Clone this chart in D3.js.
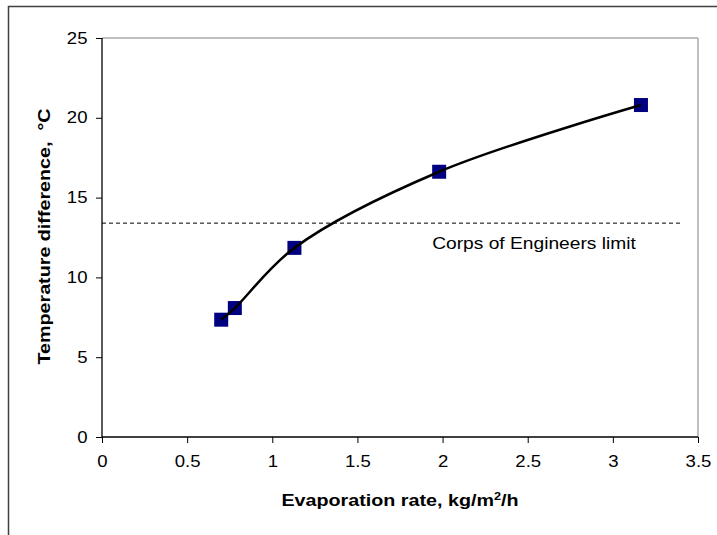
<!DOCTYPE html>
<html><head><meta charset="utf-8">
<script src="https://cdn.jsdelivr.net/npm/d3@7"></script>
<style>body{margin:0;background:#fff}svg{display:block;font-family:Arial,"Liberation Sans",sans-serif}</style>
</head><body><svg id="c" width="717" height="535"></svg>
<script>
const evapRate = [0.70, 0.78, 1.13, 1.98, 3.165];
const tempDiff = [7.35, 8.08, 11.85, 16.62, 20.8];
const xTicks = [0, 0.5, 1, 1.5, 2, 2.5, 3, 3.5];
const yTicks = [0, 5, 10, 15, 20, 25];
const limitValue = [13.4];
const limitLabel = ["Corps of Engineers limit"];

const FONT = 'Arial,"Liberation Sans",sans-serif';
const SX = 1.16; // horizontal widening of the reference's glyphs
const svg = d3.select("#c");
const L = 102, R = 698, T = 38, B = 437;
const x = d3.scaleLinear().domain([0, 3.5]).range([L, R]);
const y = d3.scaleLinear().domain([0, 25]).range([B, T]);

// outer frame
svg.append("rect").attr("x", 8.5).attr("y", 6.5).attr("width", 800).attr("height", 600)
  .attr("fill", "none").attr("stroke", "#404040").attr("stroke-width", 1.5);

// plot border top/right
svg.append("path").attr("d", `M${L},${T}H${R}V${B}`).attr("fill", "none")
  .attr("stroke", "#808080").attr("stroke-width", 1);

// axes
const xAxis = d3.axisBottom(x).tickValues(xTicks).tickSize(6).tickPadding(13).tickFormat(d3.format(""));
const gx = svg.append("g").attr("transform", `translate(0,${B})`).call(xAxis);
const yAxis = d3.axisLeft(y).tickValues(yTicks).tickSize(6).tickPadding(6.5).tickFormat(d3.format(""));
const gy = svg.append("g").attr("transform", `translate(${L},0)`).call(yAxis);
[gx, gy].forEach(g => {
  g.select(".domain").attr("stroke", "#000").attr("stroke-width", 1.3);
  g.selectAll(".tick line").attr("stroke", "#000").attr("stroke-width", 1);
  g.selectAll("text").attr("font-size", 16).attr("fill", "#000")
    .attr("font-family", FONT).attr("transform", `scale(${SX},1)`);
});
gx.select(".domain").attr("d", `M${L},0H${R}`);
gy.select(".domain").attr("d", `M0,${B}V${T}`);

// limit line
svg.append("line").attr("x1", x(0)).attr("x2", 682)
  .attr("y1", y(limitValue[0])).attr("y2", y(limitValue[0]))
  .attr("stroke", "#000").attr("stroke-width", 1).attr("stroke-dasharray", "4,3");
svg.append("text").attr("transform", `translate(534,${y(limitValue[0]) + 26}) scale(1.2,1)`)
  .attr("text-anchor", "middle").attr("font-size", 16).text(limitLabel[0]);

// curve
const pts = evapRate.map((v, i) => [v, tempDiff[i]]);
const line = d3.line().x(d => x(d[0])).y(d => y(d[1])).curve(d3.curveCatmullRom.alpha(0.5));

// markers
const s = 14;
svg.selectAll("rect.m").data(pts).enter().append("rect").attr("class", "m")
  .attr("x", d => x(d[0]) - s / 2).attr("y", d => y(d[1]) - s / 2)
  .attr("width", s).attr("height", s).attr("fill", "#000080");
svg.append("path").attr("d", line(pts)).attr("fill", "none")
  .attr("stroke", "#000").attr("stroke-width", 2.5);

// titles
svg.append("text").attr("transform", `translate(400,506) scale(${SX},1)`).attr("text-anchor", "middle")
  .attr("font-size", 17).attr("font-weight", "bold")
  .html('Evaporation rate, kg/m<tspan baseline-shift="super" font-size="11">2</tspan>/h');
svg.append("text").attr("transform", `translate(50,236.5) rotate(-90) scale(${SX},1)`).attr("text-anchor", "middle")
  .attr("font-size", 17).attr("font-weight", "bold").attr("xml:space", "preserve")
  .text("Temperature difference,  \u00B0C");
</script></body></html>
